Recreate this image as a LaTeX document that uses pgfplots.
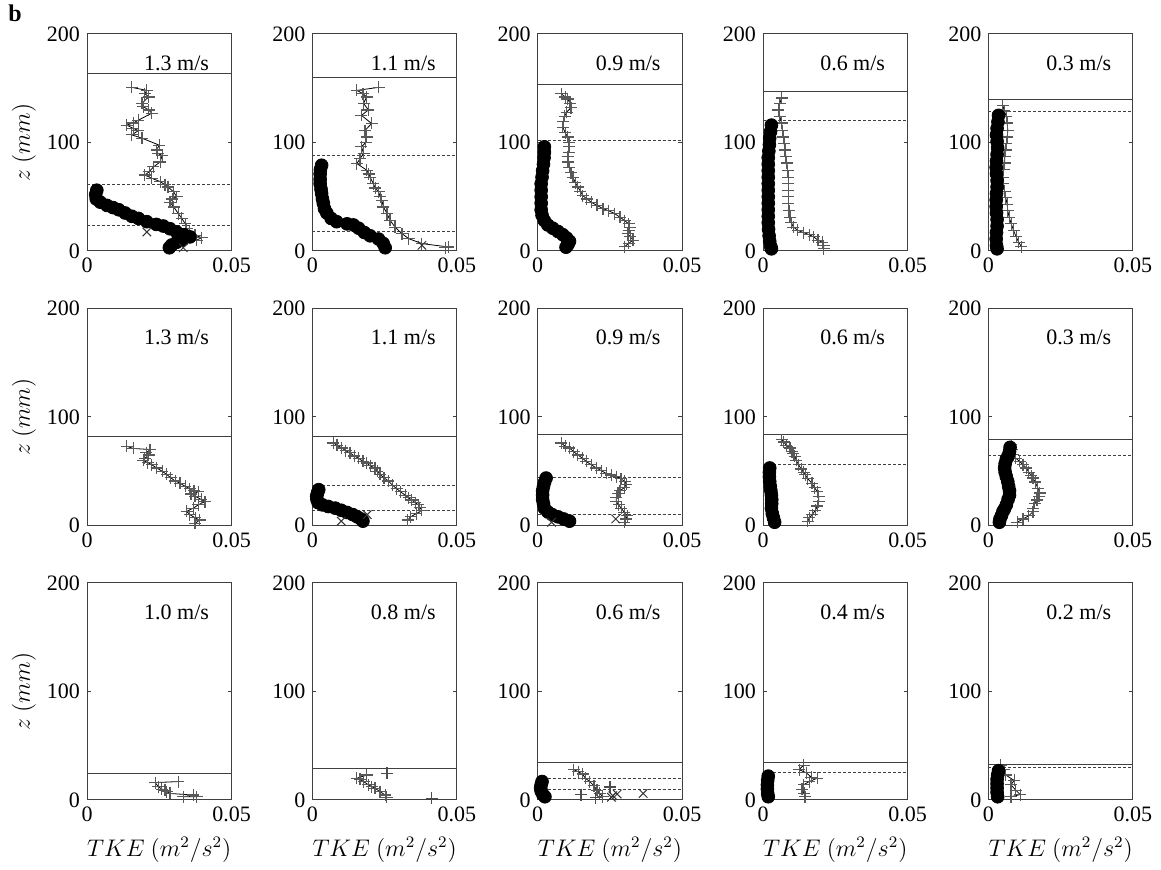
\documentclass[border=0pt]{standalone}
\usepackage{fontspec}
\setmainfont{Liberation Serif}
\usepackage{pgfplots}
\pgfplotsset{compat=1.18}
\begin{document}
\begin{tikzpicture}
\useasboundingbox (0pt,0pt) rectangle (580.5pt,435pt);
\pgfplotsset{
 pan/.style={
  width=72.25pt, height=108.5pt, scale only axis,
  xmin=0, xmax=0.05, ymin=0, ymax=200,
  xtick={0,0.05}, xticklabels={0,0.05}, scaled x ticks=false,
  ytick={0,100,200}, yticklabels={0,100,200}, scaled y ticks=false,
  tick align=inside, major tick length=2pt,
  axis line style={black!75, line width=0.5pt},
  tick style={black!75, line width=0.5pt},
  tick label style={font=\fontsize{11}{13}\selectfont},
  /pgf/number format/assume math mode=true,
  label style={font=\fontsize{12}{14}\selectfont},
  clip=false,
  anchor=south west,
 },
 ylab/.style={ylabel={$z\ (mm)$}, ylabel style={at={(axis description cs:-0.436,0.5)}, anchor=center}},
 xlab/.style={xlabel={$TKE\ (m^2/s^2)$}, xlabel style={at={(axis description cs:0.5,-0.23)}, anchor=center}},
 pl/.style={black, line width=0.4pt, mark=+, mark size=3pt, mark options={black!65, solid, line width=0.6pt}},
 po/.style={only marks, mark=+, mark size=3pt, mark options={black!70, solid, line width=0.6pt}},
 ci/.style={only marks, mark=*, mark size=3.2pt, black, mark options={fill=black, draw=black}},
 cx/.style={only marks, mark=x, mark size=3pt, black!80, mark options={line width=0.5pt}},
 hs/.style={black!75, line width=0.5pt, no marks},
 hd/.style={black!75, line width=0.45pt, dash pattern=on 1.5pt off 1pt, no marks},
}
\tikzset{spd/.style={font=\fontsize{11}{13}\selectfont}}
\node[font=\bfseries\fontsize{12}{14}\selectfont] at (7.5pt,428.5pt) {b};

% ================= Row 1 =================
\begin{axis}[pan, ylab, at={(43.5pt,309.5pt)}]
\addplot[hs] coordinates {(0,163.7) (0.05,163.7)};
\addplot[hd] coordinates {(0,61.2) (0.05,61.2)};
\addplot[hd] coordinates {(0,23.4) (0.05,23.4)};
\addplot[pl] coordinates {(0.0155,150.8) (0.0207,148) (0.0200,145) (0.0213,142) (0.0190,136) (0.0195,133) (0.0213,130) (0.0224,127) (0.0178,120.6) (0.0160,118) (0.0138,116) (0.0160,113) (0.0178,111) (0.0155,107) (0.0190,104) (0.0250,97.5) (0.0241,93) (0.0245,90) (0.0260,88) (0.0253,82) (0.0230,77.5) (0.0215,73) (0.0200,70) (0.0224,67) (0.0253,64) (0.0270,61) (0.0280,59) (0.0300,54.5) (0.0310,50) (0.0295,48) (0.0287,45) (0.0300,40.6) (0.0316,34.5) (0.0328,30) (0.0340,25) (0.0345,20.6) (0.0356,17.5) (0.0374,14.5) (0.0397,12.3) (0.0380,10)};
\addplot[ci] coordinates {(0.0034,56) (0.0030,52) (0.0032,48) (0.0046,45) (0.0069,42) (0.0090,40) (0.0110,38) (0.0132,35) (0.0155,32) (0.0178,30) (0.0207,27) (0.0240,24.5) (0.0264,23) (0.0287,20.5) (0.0310,17.5) (0.0335,15) (0.0356,13) (0.0330,10) (0.0310,8) (0.0293,5.5) (0.0285,3)};
\addplot[cx] coordinates {(0.0207,17.5) (0.0333,3)};
\node[spd] at (axis cs:0.031,173) {1.3 m/s};
\end{axis}

\begin{axis}[pan, at={(156.175pt,309.5pt)}]
\addplot[hs] coordinates {(0,159.7) (0.05,159.7)};
\addplot[hd] coordinates {(0,87.7) (0.05,87.7)};
\addplot[hd] coordinates {(0,18.2) (0.05,18.2)};
\addplot[pl] coordinates {(0.0229,150.8) (0.0154,148) (0.0175,145) (0.0188,142) (0.0177,136) (0.0194,130) (0.0170,125) (0.0205,117.5) (0.0182,111) (0.0188,105) (0.0185,100) (0.0170,96) (0.0177,90) (0.0165,85) (0.0154,80.6) (0.0188,74.5) (0.0195,71) (0.0200,68) (0.0211,62) (0.0218,58) (0.0229,54.5) (0.0235,50) (0.0240,46.8) (0.0246,40.6) (0.0258,34.5) (0.0269,28.3) (0.0286,22) (0.0310,16) (0.0333,11.4) (0.0379,6.8) (0.0471,3.7) (0.0460,3)};
\addplot[ci] coordinates {(0.0032,79) (0.0028,75) (0.0027,71) (0.0027,66) (0.0027,62) (0.0030,57) (0.0032,53) (0.0035,48) (0.0038,44) (0.0042,39) (0.0050,35) (0.0065,30) (0.0084,27) (0.0120,25) (0.0142,24) (0.0160,21) (0.0180,17) (0.0200,14) (0.0229,11) (0.0245,7) (0.0252,3)};
\addplot[cx] coordinates {(0.0379,5.2)};
\node[spd] at (axis cs:0.0315,173) {1.1 m/s};
\end{axis}

\begin{axis}[pan, at={(268.85pt,309.5pt)}]
\addplot[hs] coordinates {(0,153.8) (0.05,153.8)};
\addplot[hd] coordinates {(0,101.5) (0.05,101.5)};
\addplot[pl] coordinates {(0.0081,145) (0.0095,142) (0.0104,140) (0.0112,136) (0.0115,132) (0.0100,128) (0.0093,124) (0.0088,119) (0.0087,114) (0.0095,109) (0.0104,105) (0.0108,100) (0.0110,96) (0.0107,91) (0.0104,87) (0.0105,82) (0.0110,77) (0.0115,72) (0.0122,68) (0.0130,63) (0.0139,59) (0.0148,55) (0.0156,51) (0.0170,48) (0.0185,45) (0.0205,42) (0.0226,39) (0.0246,37) (0.0266,34.5) (0.0285,31) (0.0301,28) (0.0315,25) (0.0318,22) (0.0315,19) (0.0312,16) (0.0320,13) (0.0330,10) (0.0315,7) (0.0301,4)};
\addplot[ci] coordinates {(0.0023,96) (0.0023,91) (0.0022,86) (0.0020,80) (0.0017,74) (0.0015,68) (0.0012,62) (0.0012,56) (0.0012,50) (0.0012,44) (0.0012,38) (0.0015,33) (0.0023,28) (0.0035,24) (0.0052,21) (0.0070,18) (0.0087,15) (0.0100,12) (0.0110,9) (0.0105,6) (0.0098,3.5)};
\node[spd] at (axis cs:0.0313,173) {0.9 m/s};
\end{axis}

\begin{axis}[pan, at={(381.525pt,309.5pt)}]
\addplot[hs] coordinates {(0,147.4) (0.05,147.4)};
\addplot[hd] coordinates {(0,120) (0.05,120)};
\addplot[pl] coordinates {(0.0064,141) (0.0058,136) (0.0053,130) (0.0058,124) (0.0064,118) (0.0067,111) (0.0070,105) (0.0073,99) (0.0076,93) (0.0079,87) (0.0082,81) (0.0085,74) (0.0088,68) (0.0088,62) (0.0088,56) (0.0088,50) (0.0088,44) (0.0090,37) (0.0093,31) (0.0098,26) (0.0105,22) (0.0120,19) (0.0140,17) (0.0160,15) (0.0175,13) (0.0190,10) (0.0205,8) (0.0210,5) (0.0210,2)};
\addplot[ci] coordinates {(0.0029,116) (0.0026,110) (0.0023,104) (0.0022,98) (0.0020,92) (0.0018,86) (0.0018,80) (0.0018,74) (0.0018,68) (0.0018,62) (0.0018,56) (0.0018,50) (0.0018,44) (0.0018,38) (0.0018,32) (0.0018,26) (0.0019,20) (0.0021,14) (0.0023,9) (0.0027,4) (0.0029,2)};
\node[spd] at (axis cs:0.031,173) {0.6 m/s};
\end{axis}

\begin{axis}[pan, at={(494.2pt,309.5pt)}]
\addplot[hs] coordinates {(0,139.7) (0.05,139.7)};
\addplot[hd] coordinates {(0,128.3) (0.05,128.3)};
\addplot[pl] coordinates {(0.0050,134) (0.0055,129) (0.0062,124) (0.0065,118) (0.0067,111) (0.0065,105) (0.0062,99) (0.0060,93) (0.0057,87) (0.0056,81) (0.0053,75) (0.0050,68) (0.0052,62) (0.0056,55) (0.0060,49) (0.0065,43) (0.0067,37) (0.0072,31) (0.0079,25) (0.0087,19) (0.0096,13) (0.0105,8) (0.0114,4)};
\addplot[ci] coordinates {(0.0035,125) (0.0033,119) (0.0030,113) (0.0028,107) (0.0030,101) (0.0032,95) (0.0030,89) (0.0028,83) (0.0027,77) (0.0028,71) (0.0030,65) (0.0030,59) (0.0028,53) (0.0027,47) (0.0027,41) (0.0028,35) (0.0030,29) (0.0030,23) (0.0028,17) (0.0027,11) (0.0028,5) (0.0030,2)};
\node[spd] at (axis cs:0.0313,173) {0.3 m/s};
\end{axis}

% ================= Row 2 =================
\begin{axis}[pan, ylab, at={(43.5pt,172.25pt)}]
\addplot[hs] coordinates {(0,81.7) (0.05,81.7)};
\addplot[pl] coordinates {(0.0138,73) (0.0160,71) (0.0218,70) (0.0205,67) (0.0213,65) (0.0200,62) (0.0195,60) (0.0210,58) (0.0224,56) (0.0241,53) (0.0260,50) (0.0276,47) (0.0290,44) (0.0305,41) (0.0322,39) (0.0340,36) (0.0356,34) (0.0370,32) (0.0385,31) (0.0360,29) (0.0374,27) (0.0395,24) (0.0408,22) (0.0385,19) (0.0368,16) (0.0345,13) (0.0356,10) (0.0375,7) (0.0390,5) (0.0374,2)};
\node[spd] at (axis cs:0.031,173) {1.3 m/s};
\end{axis}

\begin{axis}[pan, at={(156.175pt,172.25pt)}]
\addplot[hs] coordinates {(0,81.7) (0.05,81.7)};
\addplot[hd] coordinates {(0,36.5) (0.05,36.5)};
\addplot[hd] coordinates {(0,13.6) (0.05,13.6)};
\addplot[pl] coordinates {(0.0073,76) (0.0085,74) (0.0102,71.5) (0.0115,69) (0.0130,67) (0.0145,64) (0.0160,62) (0.0175,59) (0.0188,57.6) (0.0200,55) (0.0217,53) (0.0225,50) (0.0234,47) (0.0248,44) (0.0263,41) (0.0278,37) (0.0292,34) (0.0305,31) (0.0321,28) (0.0333,25.5) (0.0344,23.5) (0.0356,21) (0.0367,19) (0.0372,16.5) (0.0379,14) (0.0360,11) (0.0340,8) (0.0330,5)};
\addplot[ci] coordinates {(0.0022,33) (0.0018,30) (0.0015,27) (0.0016,24) (0.0020,21) (0.0035,19) (0.0055,17.5) (0.0079,16) (0.0100,14) (0.0120,12) (0.0140,10) (0.0155,8) (0.0168,6) (0.0175,4)};
\addplot[cx] coordinates {(0.0100,4) (0.0190,10)};
\node[spd] at (axis cs:0.0315,173) {1.1 m/s};
\end{axis}

\begin{axis}[pan, at={(268.85pt,172.25pt)}]
\addplot[hs] coordinates {(0,83.9) (0.05,83.9)};
\addplot[hd] coordinates {(0,44.6) (0.05,44.6)};
\addplot[hd] coordinates {(0,10) (0.05,10)};
\addplot[pl] coordinates {(0.0081,76) (0.0095,73) (0.0110,71.5) (0.0125,68) (0.0139,65) (0.0155,62) (0.0168,59) (0.0185,56) (0.0203,53) (0.0220,50.5) (0.0237,48) (0.0255,46.5) (0.0272,45) (0.0288,43) (0.0301,40.6) (0.0307,38) (0.0300,35) (0.0285,32) (0.0278,29.7) (0.0272,26) (0.0272,22) (0.0280,19) (0.0289,16) (0.0300,12) (0.0310,9) (0.0305,6) (0.0300,3)};
\addplot[ci] coordinates {(0.0029,43.7) (0.0024,40) (0.0020,36) (0.0017,32) (0.0017,28) (0.0017,24) (0.0020,20) (0.0023,16) (0.0035,12.5) (0.0050,10) (0.0070,8) (0.0090,6) (0.0110,4)};
\addplot[cx] coordinates {(0.0048,3) (0.0270,6)};
\node[spd] at (axis cs:0.0313,173) {0.9 m/s};
\end{axis}

\begin{axis}[pan, at={(381.525pt,172.25pt)}]
\addplot[hs] coordinates {(0,83.9) (0.05,83.9)};
\addplot[hd] coordinates {(0,56) (0.05,56)};
\addplot[pl] coordinates {(0.0064,79) (0.0072,77) (0.0080,74) (0.0093,71.5) (0.0100,68) (0.0105,66) (0.0110,63.8) (0.0115,60) (0.0123,56) (0.0132,52) (0.0140,49) (0.0146,46.7) (0.0155,43) (0.0169,39) (0.0178,35) (0.0187,31.3) (0.0192,27) (0.0193,22) (0.0188,18) (0.0181,14) (0.0170,10) (0.0160,7) (0.0155,4)};
\addplot[ci] coordinates {(0.0023,53) (0.0022,49) (0.0022,45) (0.0023,40.6) (0.0025,36) (0.0027,32) (0.0029,28) (0.0030,24) (0.0030,20) (0.0029,15.8) (0.0032,11) (0.0036,7) (0.0040,3)};
\node[spd] at (axis cs:0.031,173) {0.6 m/s};
\end{axis}

\begin{axis}[pan, at={(494.2pt,172.25pt)}]
\addplot[hs] coordinates {(0,79) (0.05,79)};
\addplot[hd] coordinates {(0,64.7) (0.05,64.7)};
\addplot[pl] coordinates {(0.0079,74.6) (0.0080,70) (0.0085,65.3) (0.0095,62) (0.0108,59) (0.0120,56) (0.0131,53) (0.0140,49) (0.0148,46) (0.0154,43.7) (0.0162,40) (0.0171,34.4) (0.0177,30) (0.0175,27) (0.0168,23.5) (0.0160,20.4) (0.0156,16) (0.0154,12.7) (0.0140,9) (0.0120,6) (0.0100,3)};
\addplot[ci] coordinates {(0.0075,72) (0.0073,68) (0.0068,64) (0.0062,61) (0.0058,57) (0.0056,53) (0.0058,49) (0.0062,45) (0.0067,40.6) (0.0070,36) (0.0073,32) (0.0073,28) (0.0068,24) (0.0062,19) (0.0055,15) (0.0050,12.7) (0.0045,9) (0.0040,6) (0.0038,3)};
\node[spd] at (axis cs:0.0313,173) {0.3 m/s};
\end{axis}

% ================= Row 3 =================
\begin{axis}[pan, ylab, xlab, at={(43.5pt,35pt)}]
\addplot[hs] coordinates {(0,24.6) (0.05,24.6)};
\addplot[pl] coordinates {(0.0316,17) (0.0236,16) (0.0247,12.3) (0.0259,10) (0.0270,9) (0.0276,7.7) (0.0287,6) (0.0368,4.6) (0.0333,3) (0.0380,3)};
\node[spd] at (axis cs:0.031,173) {1.0 m/s};
\end{axis}

\begin{axis}[pan, xlab, at={(156.175pt,35pt)}]
\addplot[hs] coordinates {(0,28.6) (0.05,28.6)};
\addplot[pl] coordinates {(0.0188,23) (0.0154,20) (0.0165,19) (0.0177,17) (0.0194,14) (0.0206,12.3) (0.0217,10.8) (0.0234,7.7) (0.0252,4.6) (0.0257,2.5)};
\addplot[po] coordinates {(0.0258,24.6) (0.0413,1.5)};
\node[spd] at (axis cs:0.0315,173) {0.8 m/s};
\end{axis}

\begin{axis}[pan, xlab, at={(268.85pt,35pt)}]
\addplot[hs] coordinates {(0,35) (0.05,35)};
\addplot[hd] coordinates {(0,20) (0.05,20)};
\addplot[hd] coordinates {(0,10) (0.05,10)};
\addplot[pl] coordinates {(0.0125,28) (0.0140,26) (0.0155,24) (0.0165,20) (0.0180,17) (0.0195,13) (0.0205,9) (0.0215,6) (0.0225,3)};
\addplot[po] coordinates {(0.0250,12) (0.0200,2) (0.0150,5)};
\addplot[ci] coordinates {(0.0015,17) (0.0012,14) (0.0010,11) (0.0012,8) (0.0018,5) (0.0025,3)};
\addplot[cx] coordinates {(0.0260,4) (0.0275,5.5) (0.0365,6) (0.0255,2.5)};
\node[spd] at (axis cs:0.0313,173) {0.6 m/s};
\end{axis}

\begin{axis}[pan, xlab, at={(381.525pt,35pt)}]
\addplot[hs] coordinates {(0,35) (0.05,35)};
\addplot[hd] coordinates {(0,25) (0.05,25)};
\addplot[pl] coordinates {(0.0140,32) (0.0125,28) (0.0150,25) (0.0167,21) (0.0187,20) (0.0160,17) (0.0140,14) (0.0135,10) (0.0142,6) (0.0145,3)};
\addplot[ci] coordinates {(0.0018,22) (0.0016,18) (0.0015,14) (0.0015,10) (0.0016,6) (0.0018,3)};
\node[spd] at (axis cs:0.031,173) {0.4 m/s};
\end{axis}

\begin{axis}[pan, xlab, at={(494.2pt,35pt)}]
\addplot[hs] coordinates {(0,33) (0.05,33)};
\addplot[hd] coordinates {(0,30) (0.05,30)};
\addplot[pl] coordinates {(0.0043,32) (0.0055,28) (0.0060,23) (0.0089,18) (0.0078,14) (0.0095,9) (0.0110,5) (0.0078,3)};
\addplot[ci] coordinates {(0.0035,27) (0.0032,23) (0.0030,19) (0.0030,15) (0.0030,11) (0.0030,7) (0.0032,3)};
\node[spd] at (axis cs:0.0313,173) {0.2 m/s};
\end{axis}
\end{tikzpicture}
\end{document}
